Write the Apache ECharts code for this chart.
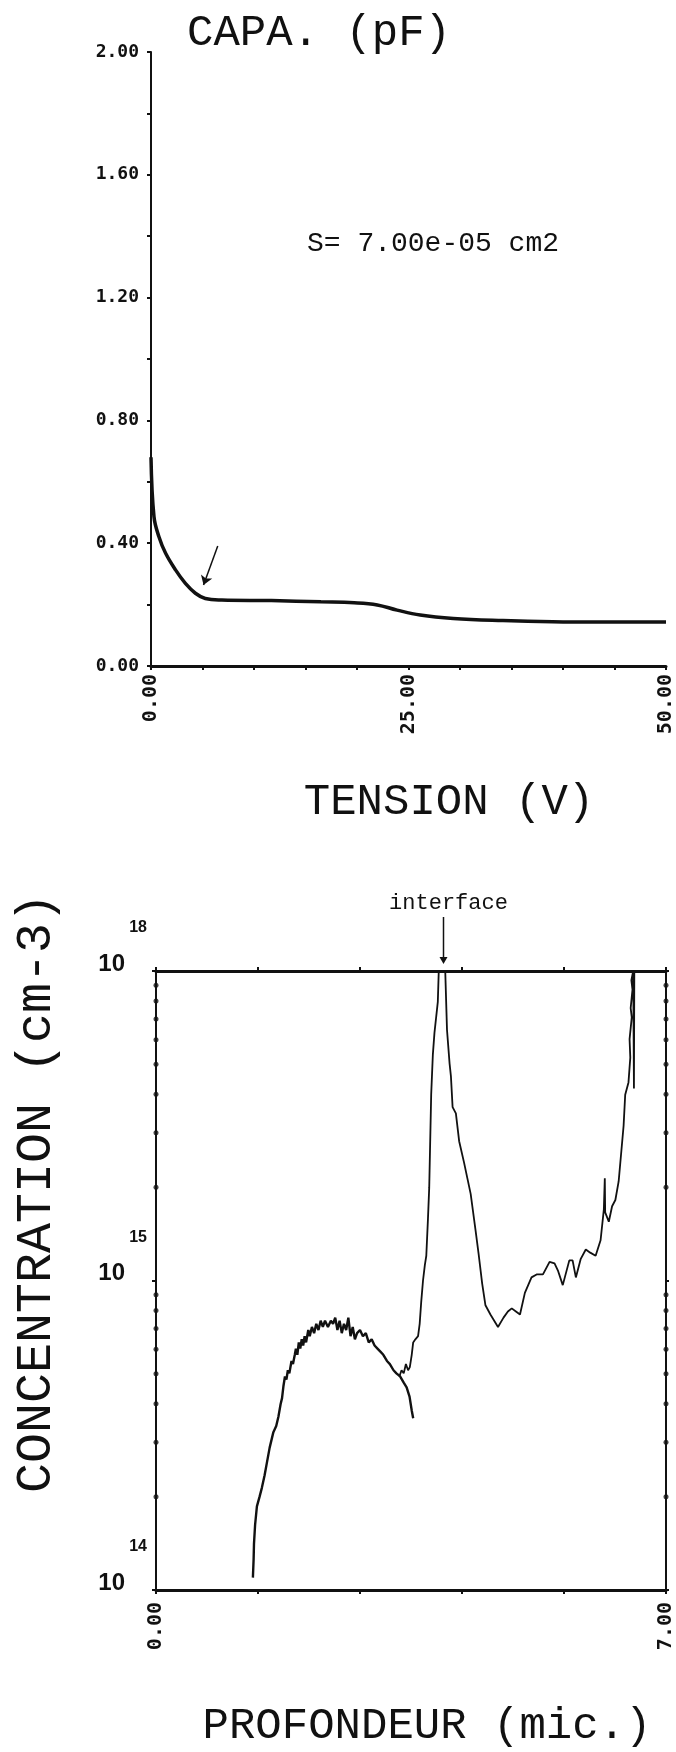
<!DOCTYPE html>
<html>
<head>
<meta charset="utf-8">
<script src="https://cdn.jsdelivr.net/npm/echarts@6/dist/echarts.min.js"></script>
<style>
html,body{margin:0;padding:0;background:#fff;}
#chart{width:676px;height:1752px;}
</style>
</head>
<body>
<div id="chart"></div>
<script>
// ---- C-V curve (top panel) ----
const voltage =     [0,    0.29,  0.77,  1.42,  2.38,  3.34,  4.31,  5.27,  6.87,  11.69, 16.5,  19.72, 21.97, 23.89, 26.14, 29.35, 34.17, 38.99, 43.8,  50];
const capacitance = [0.68, 0.486, 0.421, 0.367, 0.313, 0.269, 0.237, 0.220, 0.215, 0.213, 0.209, 0.206, 0.199, 0.182, 0.166, 0.155, 0.148, 0.144, 0.143, 0.143];
const voltTickLabels = [0, 25, 50];
const capTickLabels = [0, 0.4, 0.8, 1.2, 1.6, 2.0];
const kneeArrowFrom = [6.48, 0.391];
const kneeArrowTo = [5.1, 0.264];

// ---- Doping profile (bottom panel), concentration given as log10(cm-3) ----
const depthA =   [1.33, 1.34, 1.345, 1.36, 1.385, 1.42, 1.453, 1.49, 1.521, 1.56, 1.611, 1.65, 1.68, 1.71, 1.73, 1.75, 1.77, 1.79, 1.81, 1.83, 1.86, 1.88, 1.905, 1.92, 1.94, 1.96, 1.98, 2.00, 2.02, 2.04, 2.06, 2.09, 2.11, 2.14, 2.17, 2.20, 2.23, 2.26, 2.29, 2.32, 2.36, 2.40, 2.43, 2.46, 2.49, 2.52, 2.55, 2.58, 2.61, 2.64, 2.67, 2.70, 2.73, 2.76, 2.80, 2.84, 2.88, 2.92, 2.96, 3.00, 3.04, 3.08, 3.12, 3.17, 3.21, 3.26, 3.30, 3.35, 3.40, 3.44, 3.48, 3.51, 3.53];
const concExpA = [14.04, 14.10, 14.15, 14.21, 14.27, 14.30, 14.33, 14.37, 14.41, 14.46, 14.51, 14.53, 14.56, 14.60, 14.62, 14.66, 14.69, 14.68, 14.71, 14.70, 14.74, 14.73, 14.76, 14.78, 14.76, 14.80, 14.78, 14.81, 14.79, 14.82, 14.80, 14.84, 14.82, 14.85, 14.83, 14.86, 14.84, 14.87, 14.85, 14.87, 14.85, 14.87, 14.86, 14.88, 14.84, 14.87, 14.83, 14.86, 14.84, 14.88, 14.82, 14.85, 14.81, 14.83, 14.84, 14.82, 14.83, 14.80, 14.81, 14.79, 14.78, 14.77, 14.76, 14.74, 14.73, 14.71, 14.70, 14.69, 14.67, 14.655, 14.625, 14.58, 14.555];
const depthB =   [3.34, 3.37, 3.40, 3.43, 3.46, 3.484, 3.51, 3.53, 3.56, 3.597, 3.619, 3.64, 3.665, 3.69, 3.71, 3.733, 3.75, 3.777, 3.80, 3.822, 3.868, 3.881, 3.97, 3.994, 4.03, 4.048, 4.071, 4.116, 4.161, 4.229, 4.274, 4.319, 4.387, 4.431, 4.477, 4.522, 4.59, 4.694, 4.77, 4.83, 4.883, 4.94, 4.996, 5.063, 5.154, 5.23, 5.311, 5.402, 5.47, 5.52, 5.583, 5.673, 5.718, 5.763, 5.83, 5.899, 5.96, 6.034, 6.102, 6.147, 6.16, 6.165, 6.215, 6.26, 6.305, 6.35, 6.418, 6.44, 6.485, 6.51, 6.50, 6.53, 6.515, 6.54, 6.525, 6.55, 6.56, 6.565];
const concExpB = [14.69, 14.71, 14.70, 14.73, 14.71, 14.72, 14.76, 14.80, 14.81, 14.82, 14.86, 14.93, 15.00, 15.05, 15.08, 15.20, 15.30, 15.60, 15.73, 15.80, 15.90, 16.0, 16.0, 15.81, 15.70, 15.66, 15.56, 15.54, 15.45, 15.38, 15.33, 15.28, 15.16, 15.08, 14.99, 14.92, 14.89, 14.85, 14.88, 14.90, 14.91, 14.90, 14.89, 14.96, 15.01, 15.02, 15.02, 15.06, 15.055, 15.03, 14.985, 15.065, 15.065, 15.01, 15.07, 15.10, 15.09, 15.08, 15.13, 15.23, 15.33, 15.22, 15.19, 15.24, 15.26, 15.32, 15.50, 15.60, 15.64, 15.72, 15.78, 15.85, 15.88, 15.94, 15.97, 16.0, 15.62, 16.0];
const depthTickLabels = [0, 7];
const concTickExponents = ['14', '15', '18'];
const concMinorTicks = [2e14, 3e14, 4e14, 5e14, 6e14, 7e14, 8e14, 9e14, 2e15, 3e15, 4e15, 5e15, 6e15, 7e15, 8e15, 9e15];
const interfaceDepth = 3.94;

const INK = '#111';
const MONO = '"DejaVu Sans Mono", "Liberation Mono", monospace';
const PLOT = '"Liberation Mono", "DejaVu Sans Mono", monospace';
const EXPF = '"Liberation Sans", "DejaVu Sans", sans-serif';

function isTick(list, v) { return list.some(t => Math.abs(t - v) < 1e-6); }
function zip(xs, ys, f) { return xs.map((x, i) => [x, f ? f(ys[i]) : ys[i]]); }
const pow10 = e => Math.pow(10, e);

const chart = echarts.init(document.getElementById('chart'), null, {renderer: 'canvas'});

const tickStyle = {show: true, length: 4, lineStyle: {color: INK, width: 2}};

const option = {
  backgroundColor: '#fff',
  animation: false,
  grid: [
    {left: 151, top: 52, width: 520, height: 614},
    {left: 156, top: 971, width: 517, height: 619}
  ],
  xAxis: [
    {gridIndex: 0, type: 'value', min: 0, max: 50, interval: 5, position: 'bottom',
     axisLine: {onZero: false, lineStyle: {color: INK, width: 3}},
     axisTick: tickStyle, splitLine: {show: false},
     axisLabel: {rotate: 90, margin: 8, color: INK, fontFamily: MONO, fontWeight: 'bold', fontSize: 20,
       formatter: v => isTick(voltTickLabels, v) ? v.toFixed(2) : ''}},
    {gridIndex: 1, type: 'value', min: 0, max: 7, interval: 1.4, position: 'bottom',
     axisLine: {onZero: false, lineStyle: {color: INK, width: 3}},
     axisTick: tickStyle, splitLine: {show: false},
     axisLabel: {rotate: 90, margin: 12, color: INK, fontFamily: MONO, fontWeight: 'bold', fontSize: 20,
       formatter: v => isTick(depthTickLabels, v) ? v.toFixed(2) : ''}},
    {gridIndex: 1, type: 'value', min: 0, max: 7, interval: 1.4, position: 'top',
     axisLine: {onZero: false, lineStyle: {color: INK, width: 3}},
     axisTick: tickStyle, splitLine: {show: false}, axisLabel: {show: false}}
  ],
  yAxis: [
    {gridIndex: 0, type: 'value', min: 0, max: 2, interval: 0.2,
     axisLine: {show: true, onZero: false, lineStyle: {color: INK, width: 2}},
     axisTick: tickStyle, splitLine: {show: false},
     axisLabel: {margin: 12, color: INK, fontFamily: MONO, fontWeight: 'bold', fontSize: 18,
       formatter: v => isTick(capTickLabels, v) ? v.toFixed(2) : ''}},
    {gridIndex: 1, type: 'log', logBase: 10, min: 1e14, max: 1e16, splitNumber: 2, position: 'left',
     axisLine: {show: true, onZero: false, lineStyle: {color: INK, width: 2}},
     axisTick: tickStyle, splitLine: {show: false},
     axisLabel: {margin: 9, align: 'right', verticalAlign: 'bottom', color: INK,
       formatter: v => {
         const idx = Math.round(Math.log10(v)) - 14;
         return '{e|' + concTickExponents[idx] + '}\n{b|10}';
       },
       rich: {
         e: {fontFamily: EXPF, fontWeight: 'bold', fontSize: 16, lineHeight: 58, color: INK},
         b: {fontFamily: EXPF, fontWeight: 'bold', fontSize: 24, lineHeight: 14, color: INK, padding: [0, 22, 0, 0]}
       }}},
    {gridIndex: 1, type: 'log', logBase: 10, min: 1e14, max: 1e16, splitNumber: 2, position: 'right',
     axisLine: {show: true, onZero: false, lineStyle: {color: INK, width: 2}},
     axisTick: {show: true, length: 3, lineStyle: {color: INK, width: 2}},
     splitLine: {show: false}, axisLabel: {show: false}}
  ],
  series: [
    {name: 'CAPA', type: 'line', xAxisIndex: 0, yAxisIndex: 0,
     data: zip(voltage, capacitance), smooth: 0.4, showSymbol: false, symbol: 'none',
     lineStyle: {color: INK, width: 3.5}, silent: true,
     markLine: {silent: true, symbol: ['none', 'arrow'], symbolSize: 9,
       lineStyle: {color: INK, width: 1.5, type: 'solid'}, label: {show: false},
       emphasis: {disabled: true},
       data: [[{coord: kneeArrowFrom}, {coord: kneeArrowTo}]]}},
    {name: 'profileA', type: 'line', xAxisIndex: 1, yAxisIndex: 1,
     data: zip(depthA, concExpA, pow10), showSymbol: false, symbol: 'none',
     lineStyle: {color: INK, width: 2.4}, silent: true},
    {name: 'profileB', type: 'line', xAxisIndex: 1, yAxisIndex: 1,
     data: zip(depthB, concExpB, pow10), showSymbol: false, symbol: 'none',
     lineStyle: {color: INK, width: 1.8}, silent: true},
    {name: 'minorTicksLeft', type: 'scatter', xAxisIndex: 1, yAxisIndex: 1, clip: false,
     data: concMinorTicks.map(v => [0, v]), symbol: 'circle', symbolSize: 5,
     itemStyle: {color: INK}, silent: true},
    {name: 'minorTicksRight', type: 'scatter', xAxisIndex: 1, yAxisIndex: 1, clip: false,
     data: concMinorTicks.map(v => [7, v]), symbol: 'circle', symbolSize: 5,
     itemStyle: {color: INK}, silent: true}
  ]
};
chart.setOption(option);

// Annotations and titles
const ip = chart.convertToPixel({xAxisIndex: 1, yAxisIndex: 1}, [interfaceDepth, 1e16]);
const px = Math.round(ip[0]) + 0.5, py = ip[1];
chart.setOption({
  graphic: [
    {type: 'text', x: 319, y: 33, style: {text: 'CAPA. (pF)', font: '44px ' + PLOT, fill: INK, align: 'center', verticalAlign: 'middle'}},
    {type: 'text', x: 433, y: 244, style: {text: 'S= 7.00e-05 cm2', font: '28px ' + PLOT, fill: INK, align: 'center', verticalAlign: 'middle'}},
    {type: 'text', x: 449, y: 802, style: {text: 'TENSION (V)', font: '44px ' + PLOT, fill: INK, align: 'center', verticalAlign: 'middle'}},
    {type: 'text', x: 37, y: 1193, rotation: Math.PI / 2, style: {text: 'CONCENTRATION (cm-3)', font: '50px ' + PLOT, fill: INK, align: 'center', verticalAlign: 'middle'}},
    {type: 'text', x: 427, y: 1726, style: {text: 'PROFONDEUR (mic.)', font: '44px ' + PLOT, fill: INK, align: 'center', verticalAlign: 'middle'}},
    {type: 'text', x: px + 5, y: py - 68, style: {text: 'interface', font: '22px ' + PLOT, fill: INK, align: 'center', verticalAlign: 'middle'}},
    {type: 'line', shape: {x1: px, y1: py - 54, x2: px, y2: py - 10}, style: {stroke: INK, lineWidth: 1.5}},
    {type: 'polygon', shape: {points: [[px - 4, py - 14], [px + 4, py - 14], [px, py - 7]]}, style: {fill: INK}}
  ]
});
</script>
</body>
</html>
